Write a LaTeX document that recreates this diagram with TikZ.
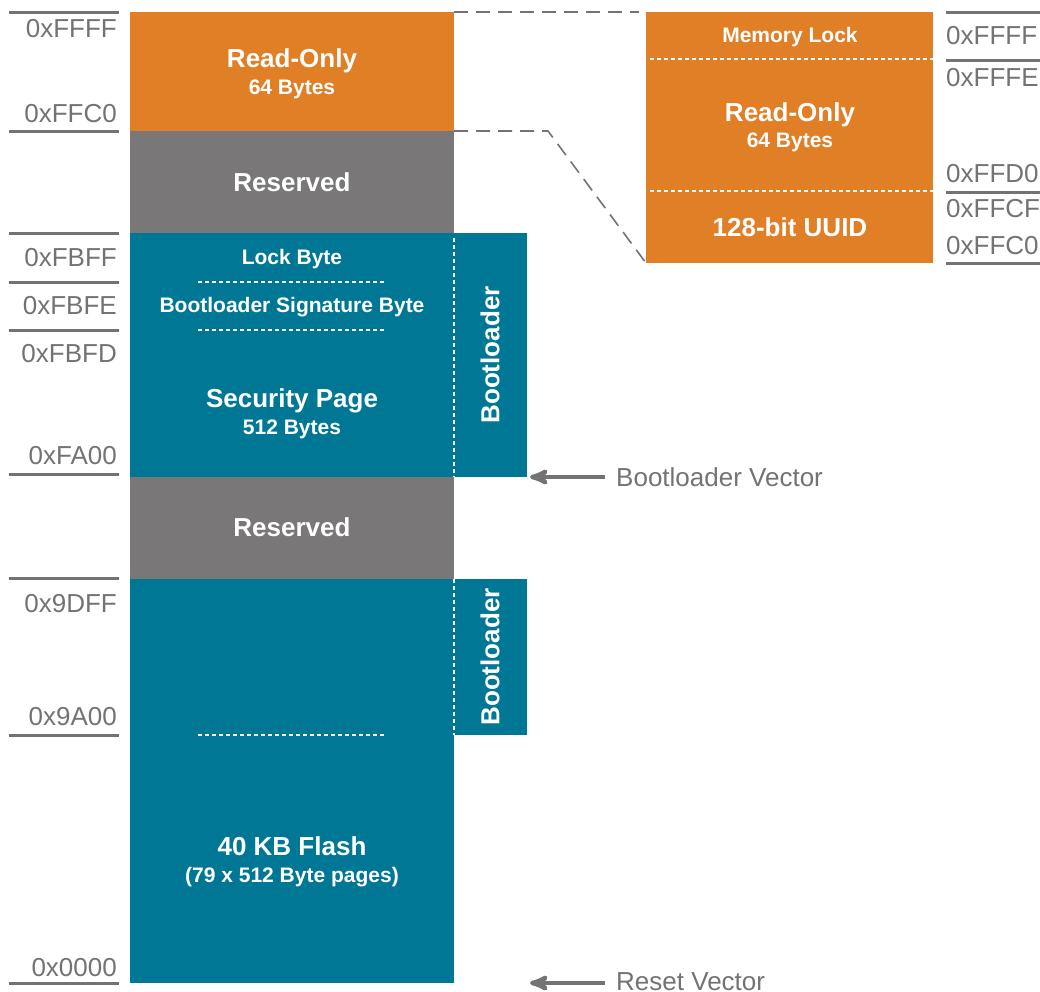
\documentclass[tikz,border=0pt]{standalone}
\usepackage{fontspec}
\setmainfont{Liberation Sans}
\usetikzlibrary{arrows}
\definecolor{roorange}{RGB}{224,127,38}
\definecolor{resgray}{RGB}{121,119,120}
\definecolor{flteal}{RGB}{0,119,148}
\definecolor{addrgray}{RGB}{115,115,117}

\begin{document}
\begin{tikzpicture}[x=1pt,y=-1pt,>=stealth',
  block/.style={draw=none,inner sep=0pt,outer sep=0pt,anchor=north west},
  big/.style={text=white,font=\fontsize{26}{28}\selectfont\bfseries,inner sep=0pt,text height=18.6pt,text depth=0pt},
  small/.style={text=white,font=\fontsize{21}{23}\selectfont\bfseries,inner sep=0pt,text height=15pt,text depth=0pt},
  addr/.style={text=addrgray,font=\fontsize{26}{28}\selectfont,inner sep=0pt,text height=18.6pt,text depth=0pt},
  addrline/.style={draw=addrgray,line width=3pt},
  sepline/.style={draw=white,line width=2pt,dash pattern=on 4pt off 3pt},
  zoomline/.style={draw=addrgray,line width=1.6pt,dash pattern=on 14pt off 8pt},
  vec/.style={->,draw=addrgray,line width=4.5pt,shorten <=11pt}]
  \useasboundingbox (0,0) rectangle (1040,991);

  % memory blocks
  \node[block,fill=roorange,minimum width=324pt,minimum height=119pt] (ro) at (130,12) {};
  \node[block,fill=resgray,minimum width=324pt,minimum height=102pt] (res1) at (130,131) {};
  \node[block,fill=flteal,minimum width=324pt,minimum height=244pt] (sec) at (130,233) {};
  \node[block,fill=flteal,minimum width=73pt,minimum height=244pt] (bl1) at (454,233) {};
  \node[block,fill=resgray,minimum width=324pt,minimum height=102pt] (res2) at (130,477) {};
  \node[block,fill=flteal,minimum width=324pt,minimum height=404pt] (fl) at (130,579) {};
  \node[block,fill=flteal,minimum width=73pt,minimum height=156pt] (bl2) at (454,579) {};
  \node[block,fill=roorange,minimum width=287pt,minimum height=251pt] (zro) at (646,12) {};

  % dotted separators
  \draw[sepline] (198,282) -- (386,282);
  \draw[sepline] (198,330) -- (386,330);
  \draw[sepline] (454,238) -- (454,477);
  \draw[sepline] (454,579) -- (454,735);
  \draw[sepline] (198,735) -- (386,735);
  \draw[sepline] (650,59) -- (933,59);
  \draw[sepline] (650,191) -- (933,191);

  % block texts
  \node[big] (ro1) at (292,58) {Read-Only};
  \node[small] (ro2) at (292,87) {64 Bytes};
  \node[big] (rs1) at (292,182) {Reserved};
  \node[small] (lb) at (292,257) {Lock Byte};
  \node[small] (bsb) at (292,305) {Bootloader Signature Byte};
  \node[big] (sp1) at (292,398) {Security Page};
  \node[small] (sp2) at (292,427) {512 Bytes};
  \node[big,rotate=90] (blt1) at (490,355) {Bootloader};
  \node[big] (rs2) at (292,527) {Reserved};
  \node[big,rotate=90] (blt2) at (490,657) {Bootloader};
  \node[big] (fl1) at (292,846) {40 KB Flash};
  \node[small] (fl2) at (292,875) {(79 x 512 Byte pages)};
  \node[small] (ml) at (790,35) {Memory Lock};
  \node[big] (zro1) at (790,112) {Read-Only};
  \node[small] (zro2) at (790,140) {64 Bytes};
  \node[big] (uuid) at (790,227) {128-bit UUID};

  % address ticks, left
  \foreach \y in {12,131,233,282,330,474,578,735,983}
    \draw[addrline] (9,\y) -- (119,\y);
  \node[addr,anchor=east] (a1) at (117,28) {0xFFFF};
  \node[addr,anchor=east] (a2) at (117,113) {0xFFC0};
  \node[addr,anchor=east] (a3) at (117,257) {0xFBFF};
  \node[addr,anchor=east] (a4) at (117,305) {0xFBFE};
  \node[addr,anchor=east] (a5) at (117,353) {0xFBFD};
  \node[addr,anchor=east] (a6) at (117,455) {0xFA00};
  \node[addr,anchor=east] (a7) at (117,603) {0x9DFF};
  \node[addr,anchor=east] (a8) at (117,716) {0x9A00};
  \node[addr,anchor=east] (a9) at (117,967) {0x0000};

  % address ticks, right
  \foreach \y in {12,60,192,263}
    \draw[addrline] (946,\y) -- (1040,\y);
  \node[addr,anchor=west] (b1) at (946,35) {0xFFFF};
  \node[addr,anchor=west] (b2) at (946,77) {0xFFFE};
  \node[addr,anchor=west] (b3) at (946,173) {0xFFD0};
  \node[addr,anchor=west] (b4) at (946,208) {0xFFCF};
  \node[addr,anchor=west] (b5) at (946,245) {0xFFC0};

  % zoom lines
  \coordinate (zt) at (639,12);
  \coordinate (zk) at (548,131);
  \draw[zoomline] (ro.north east) -- (zt);
  \draw[zoomline] (ro.south east) -- (zk) -- (zro.south west);

  % vectors
  \node[addr,anchor=west] (bv) at (616,477) {Bootloader Vector};
  \node[addr,anchor=west] (rv) at (616,981) {Reset Vector};
  \coordinate (bvtip) at (530,477);
  \coordinate (rvtip) at (530,983);
  \draw[vec] (bv.west) -- (bvtip);
  \draw[vec] (rv.west |- rvtip) -- (rvtip);
\end{tikzpicture}
\end{document}
